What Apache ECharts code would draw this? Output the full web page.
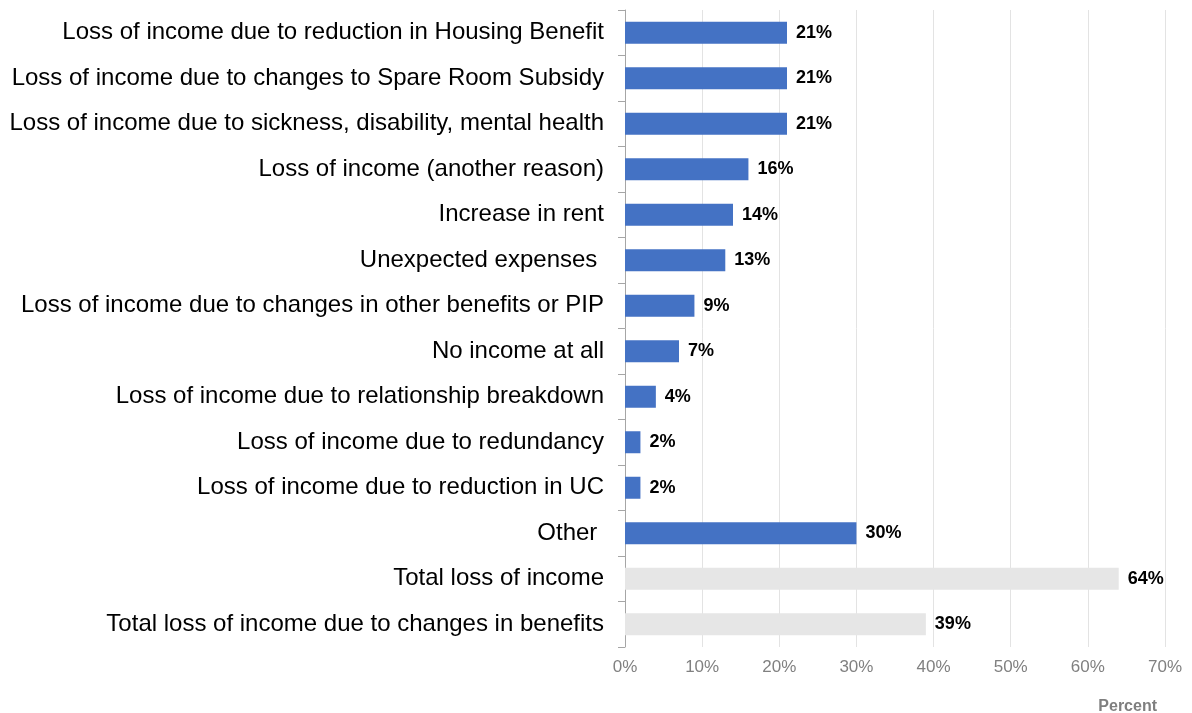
<!DOCTYPE html>
<html>
<head>
<meta charset="utf-8">
<script src="https://cdn.jsdelivr.net/npm/echarts@6/dist/echarts.min.js"></script>
<style>
  html, body { margin: 0; padding: 0; background: #fff; }
  #chart { width: 1192px; height: 713px; }
</style>
</head>
<body>
<div id="chart"></div>
<script>
// Reasons for falling into rent arrears (percent of respondents)
const categories = [
  'Loss of income due to reduction in Housing Benefit',
  'Loss of income due to changes to Spare Room Subsidy',
  'Loss of income due to sickness, disability, mental health',
  'Loss of income (another reason)',
  'Increase in rent',
  'Unexpected expenses ',
  'Loss of income due to changes in other benefits or PIP',
  'No income at all',
  'Loss of income due to relationship breakdown',
  'Loss of income due to redundancy',
  'Loss of income due to reduction in UC',
  'Other ',
  'Total loss of income',
  'Total loss of income due to changes in benefits'
];
const values = [21, 21, 21, 16, 14, 13, 9, 7, 4, 2, 2, 30, 64, 39];
// Summary rows are drawn in grey
const summaryRows = ['Total loss of income', 'Total loss of income due to changes in benefits'];
const xTicks = { min: 0, max: 70, interval: 10 };
const axisTitle = 'Percent';

const BLUE = '#4472C4';
const GREY = '#E6E6E6';
const FONT = 'Liberation Sans, Arial, sans-serif';

const chart = echarts.init(document.getElementById('chart'), null, { renderer: 'canvas' });

const barData = categories.map((c, i) => ({
  value: values[i],
  itemStyle: { color: summaryRows.includes(c) ? GREY : BLUE }
}));

chart.setOption({
  animation: false,
  backgroundColor: '#ffffff',
  textStyle: { fontFamily: FONT },
  grid: { left: 625, right: 27, top: 10, bottom: 66, containLabel: false },
  xAxis: {
    type: 'value',
    min: xTicks.min,
    max: xTicks.max,
    interval: xTicks.interval,
    axisLine: { show: false },
    axisTick: { show: false },
    splitLine: { show: true, lineStyle: { color: '#E3E3E3', width: 1 } },
    axisLabel: {
      formatter: v => v + '%',
      color: '#808080',
      fontSize: 17,
      margin: 12,
      fontFamily: FONT
    }
  },
  yAxis: {
    type: 'category',
    inverse: true,
    data: categories,
    axisLine: { show: true, lineStyle: { color: '#A6A6A6', width: 1 } },
    axisTick: { show: true, length: 7, lineStyle: { color: '#A6A6A6' } },
    axisLabel: {
      color: '#000000',
      fontSize: 24,
      margin: 21,
      padding: [4, 0, 0, 0],
      fontFamily: FONT
    }
  },
  series: [{
    type: 'bar',
    data: barData,
    barWidth: 22,
    label: {
      show: true,
      position: 'right',
      distance: 9,
      padding: [3, 0, 0, 0],
      formatter: p => p.value + '%',
      color: '#000000',
      fontWeight: 'bold',
      fontSize: 18,
      fontFamily: FONT
    }
  }],
  graphic: [{
    type: 'text',
    right: 35,
    top: 699,
    style: {
      text: axisTitle,
      fill: '#7F7F7F',
      font: 'bold 16px "Liberation Sans", Arial, sans-serif'
    }
  }]
});
</script>
</body>
</html>
